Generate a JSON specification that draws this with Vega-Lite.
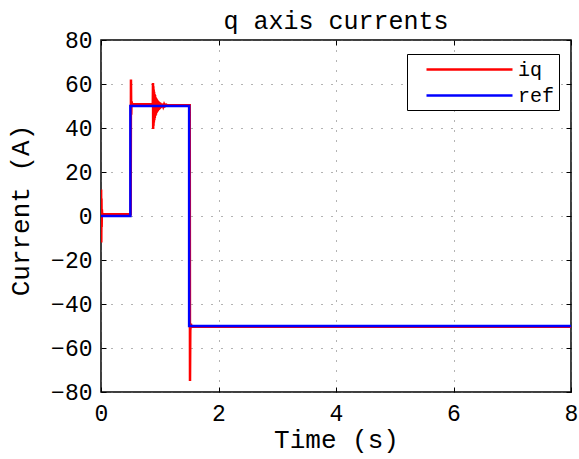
{
  "$schema": "https://vega.github.io/schema/vega-lite/v6.json",
  "width": 470,
  "height": 352,
  "autosize": "none",
  "padding": {"left": 101, "top": 40, "right": 8, "bottom": 67},
  "background": "white",
  "title": {
    "text": "q axis currents",
    "font": "Liberation Mono",
    "fontSize": 25,
    "fontWeight": "normal",
    "color": "black",
    "anchor": "middle",
    "offset": -5
  },
  "datasets": {
    "currents": [
      {"t": 0, "v": 0, "s": "iq"},
      {"t": 0.002, "v": 12, "s": "iq"},
      {"t": 0.005, "v": -12, "s": "iq"},
      {"t": 0.008, "v": 8, "s": "iq"},
      {"t": 0.011, "v": -5, "s": "iq"},
      {"t": 0.015, "v": 3, "s": "iq"},
      {"t": 0.02, "v": 0.8, "s": "iq"},
      {"t": 0.505, "v": 0.8, "s": "iq"},
      {"t": 0.51, "v": 62, "s": "iq"},
      {"t": 0.515, "v": 46, "s": "iq"},
      {"t": 0.52, "v": 52, "s": "iq"},
      {"t": 0.53, "v": 50.8, "s": "iq"},
      {"t": 0.882, "v": 50.8, "s": "iq"},
      {"t": 0.885, "v": 60.5, "s": "iq"},
      {"t": 0.888, "v": 39.5, "s": "iq"},
      {"t": 0.891, "v": 59, "s": "iq"},
      {"t": 0.894, "v": 41, "s": "iq"},
      {"t": 0.897, "v": 57.5, "s": "iq"},
      {"t": 0.9, "v": 42.5, "s": "iq"},
      {"t": 0.904, "v": 56.5, "s": "iq"},
      {"t": 0.908, "v": 43.5, "s": "iq"},
      {"t": 0.912, "v": 55.5, "s": "iq"},
      {"t": 0.916, "v": 44.5, "s": "iq"},
      {"t": 0.92, "v": 55, "s": "iq"},
      {"t": 0.925, "v": 45.5, "s": "iq"},
      {"t": 0.93, "v": 54, "s": "iq"},
      {"t": 0.935, "v": 46, "s": "iq"},
      {"t": 0.94, "v": 53.5, "s": "iq"},
      {"t": 0.945, "v": 46.8, "s": "iq"},
      {"t": 0.95, "v": 53, "s": "iq"},
      {"t": 0.956, "v": 47.3, "s": "iq"},
      {"t": 0.962, "v": 52.6, "s": "iq"},
      {"t": 0.968, "v": 47.8, "s": "iq"},
      {"t": 0.975, "v": 52.2, "s": "iq"},
      {"t": 0.982, "v": 48.2, "s": "iq"},
      {"t": 0.99, "v": 51.8, "s": "iq"},
      {"t": 0.998, "v": 48.6, "s": "iq"},
      {"t": 1.006, "v": 51.5, "s": "iq"},
      {"t": 1.015, "v": 49, "s": "iq"},
      {"t": 1.025, "v": 51.2, "s": "iq"},
      {"t": 1.035, "v": 49.4, "s": "iq"},
      {"t": 1.045, "v": 51, "s": "iq"},
      {"t": 1.06, "v": 49.7, "s": "iq"},
      {"t": 1.075, "v": 50.8, "s": "iq"},
      {"t": 1.09, "v": 50, "s": "iq"},
      {"t": 1.11, "v": 50.6, "s": "iq"},
      {"t": 1.13, "v": 50.3, "s": "iq"},
      {"t": 1.51, "v": 50.3, "s": "iq"},
      {"t": 1.515, "v": -75, "s": "iq"},
      {"t": 1.52, "v": -52, "s": "iq"},
      {"t": 1.53, "v": -49, "s": "iq"},
      {"t": 1.54, "v": -50.3, "s": "iq"},
      {"t": 8, "v": -50.3, "s": "iq"},
      {"t": 0, "v": 0, "s": "ref"},
      {"t": 0.5, "v": 0, "s": "ref"},
      {"t": 0.5, "v": 50, "s": "ref"},
      {"t": 1.5, "v": 50, "s": "ref"},
      {"t": 1.5, "v": -50, "s": "ref"},
      {"t": 8, "v": -50, "s": "ref"}
    ]
  },
  "data": {"name": "currents"},
  "layer": [
    {
      "transform": [{"filter": "datum.s === 'iq'"}],
      "mark": {"type": "line", "strokeWidth": 2.5, "clip": true},
      "encoding": {
        "x": {
          "field": "t", "type": "quantitative",
          "scale": {"domain": [0, 8], "nice": false, "zero": false},
          "axis": {"orient": "bottom", "title": "Time (s)", "values": [0, 2, 4, 6, 8], "tickSize": -5, "labelPadding": 15, "titlePadding": 1}
        },
        "y": {
          "field": "v", "type": "quantitative",
          "scale": {"domain": [-80, 80], "nice": false, "zero": false},
          "axis": {"orient": "left", "title": "Current (A)", "values": [-80, -60, -40, -20, 0, 20, 40, 60, 80], "tickSize": -5, "labelPadding": 14, "titlePadding": 17, "titleY": 170}
        },
        "color": {
          "field": "s", "type": "nominal",
          "scale": {"domain": ["iq", "ref"], "range": ["#ff0000", "#0000ff"]},
          "legend": {
            "title": null,
            "orient": "none",
            "legendX": 306,
            "legendY": 14,
            "symbolType": "M-4.3,0H4.3",
            "symbolSize": 400,
            "symbolStrokeWidth": 2.5,
            "symbolOffset": 47,
            "labelFont": "Liberation Mono",
            "labelFontSize": 20,
            "labelColor": "black",
            "labelOffset": 37,
            "rowPadding": 4,
            "padding": 4,
            "strokeColor": "black",
            "fillColor": "white"
          }
        },
        "order": {"value": null}
      }
    },
    {
      "transform": [{"filter": "datum.s === 'ref'"}],
      "mark": {"type": "line", "strokeWidth": 2.5, "clip": true},
      "encoding": {
        "x": {
          "field": "t", "type": "quantitative",
          "axis": {"orient": "top", "title": null, "labels": false, "grid": false, "values": [0, 2, 4, 6, 8], "tickSize": -5}
        },
        "y": {
          "field": "v", "type": "quantitative",
          "axis": {"orient": "right", "title": null, "labels": false, "grid": false, "values": [-80, -60, -40, -20, 0, 20, 40, 60, 80], "tickSize": -5}
        },
        "color": {"field": "s", "type": "nominal"},
        "order": {"value": null}
      }
    }
  ],
  "resolve": {"axis": {"x": "independent", "y": "independent"}},
  "config": {
    "view": {"stroke": "black", "strokeWidth": 1.5},
    "axis": {
      "domain": false,
      "grid": true,
      "gridColor": "#666666",
      "gridDash": [1, 9],
      "gridWidth": 1,
      "gridOpacity": 1,
      "tickColor": "black",
      "tickWidth": 1,
      "labelFlush": false,
      "labelFont": "Liberation Mono",
      "labelFontSize": 23,
      "labelColor": "black",
      "titleFont": "Liberation Mono",
      "titleFontSize": 26,
      "titleFontWeight": "normal",
      "titleColor": "black"
    }
  }
}
